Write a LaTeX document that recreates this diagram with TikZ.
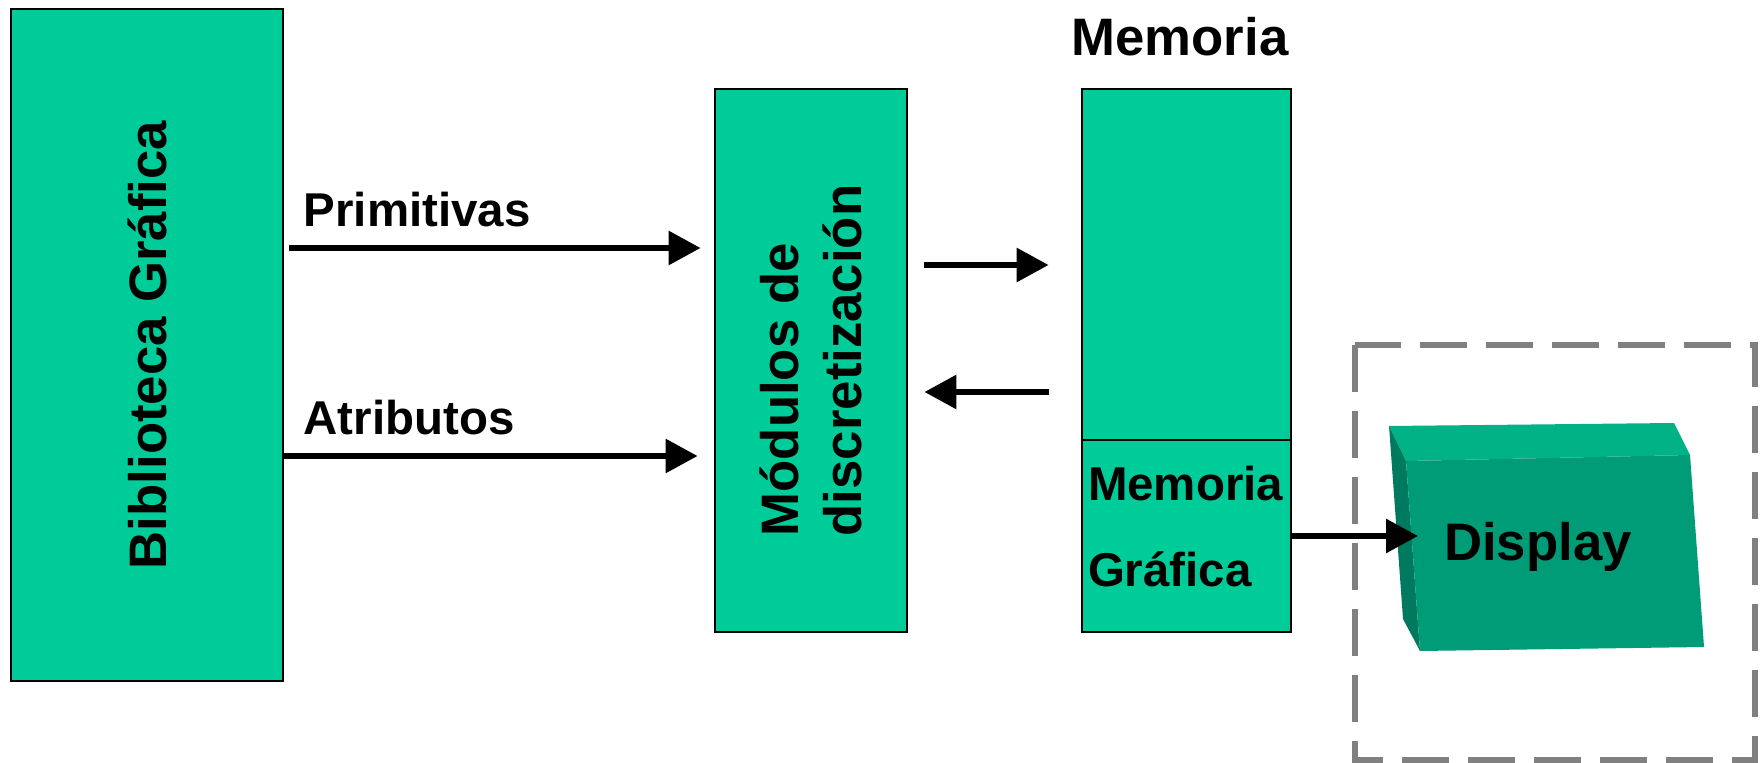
\documentclass[tikz,border=0pt]{standalone}
\usepackage{fontspec}
\setmainfont{Liberation Sans}
\usetikzlibrary{arrows.meta,calc}
\definecolor{boxgreen}{RGB}{0,204,153}
\definecolor{dispfront}{RGB}{0,155,119}
\definecolor{disptop}{RGB}{0,178,134}
\definecolor{dispside}{RGB}{0,122,94}
\tikzset{>={Triangle[length=3.2mm,width=3.3mm]}}

\begin{document}
\begin{tikzpicture}[
    block/.style={draw=black, line width=0.8pt, fill=boxgreen, inner sep=0pt},
    arr/.style={->, line width=1.7pt},
    lbl/.style={font=\fontsize{13.5}{16}\selectfont\bfseries, inner sep=0pt},
    big/.style={font=\fontsize{15}{18}\selectfont\bfseries}]

    % Fix the page size
    \useasboundingbox (0,0) rectangle (17.62,-7.63);

    % Draw the blocks
    \node[block, big, rotate=90, minimum width=6.72cm, minimum height=2.72cm] (biblio) at (1.47,-3.45) {Biblioteca Gráfica};
    \node[block, big, rotate=90, minimum width=5.43cm, minimum height=1.92cm, align=left] (modulos) at (8.11,-3.605) {Módulos de\\discretización};
    \node[block, minimum width=2.09cm, minimum height=3.51cm] (mem) at (11.865,-2.645) {};
    \node[block, font=\fontsize{13.5}{24.5}\selectfont\bfseries, minimum width=2.09cm, minimum height=1.92cm,
          inner xsep=0.6mm, text width=1.97cm, text depth=30pt, align=left] (mgraf) at (11.865,-5.36) {Memoria\\Gráfica};
    \node[big] (memtitle) at (11.80,-0.37) {Memoria};

    % Labels of the inputs
    \node[lbl, anchor=west] (prim) at (3.03,-2.10) {Primitivas};
    \node[lbl, anchor=west] (atrib) at (3.03,-4.18) {Atributos};

    % Heights of the arrows
    \coordinate (yprim) at (0,-2.48);
    \coordinate (yatrib) at (0,-4.56);
    \coordinate (yto) at (0,-2.65);
    \coordinate (yback) at (0,-3.92);

    % Draw arrows
    \draw[arr, shorten <=0.5mm, shorten >=1.3mm] (biblio.south |- yprim) -- (modulos.north |- yprim);
    \draw[arr, shorten >=1.6mm] (biblio.south |- yatrib) -- (modulos.north |- yatrib);
    \draw[arr, shorten <=1.6mm, shorten >=3.2mm] (modulos.south |- yto) -- (mem.west |- yto);
    \draw[arr, shorten <=3.2mm, shorten >=1.6mm] (mem.west |- yback) -- (modulos.south |- yback);

    % Dashed frame round the display
    \draw[gray, line width=1.5pt, dash pattern=on 4.7mm off 1.9mm] (13.55,-3.45) rectangle (17.55,-7.60);

    % Draw the display
    \coordinate (dA) at (13.89,-4.26);
    \coordinate (dB) at (16.74,-4.23);
    \coordinate (dC) at (16.90,-4.55);
    \coordinate (dD) at (17.04,-6.47);
    \coordinate (dE) at (14.20,-6.51);
    \coordinate (dF) at (14.03,-6.19);
    \coordinate (dG) at (14.06,-4.61);
    \fill[disptop] (dA) -- (dB) -- (dC) -- (dG) -- cycle;
    \fill[dispside] (dA) -- (dG) -- (dE) -- (dF) -- cycle;
    \fill[dispfront] (dG) -- (dC) -- (dD) -- (dE) -- cycle;
    \node[big] (display) at (15.38,-5.47) {Display};

    \coordinate (dispin) at (14.18,-5.36);
    \draw[arr] (mgraf.east) -- (dispin);
\end{tikzpicture}
\end{document}
